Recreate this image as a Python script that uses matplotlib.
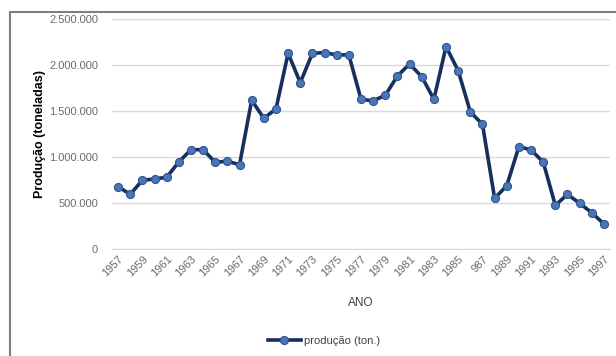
import matplotlib.pyplot as plt
from matplotlib.patches import Rectangle
from matplotlib.ticker import FuncFormatter

# Dados: produção anual (toneladas)
anos = list(range(1957, 1998))
producao = [675000, 591000, 744000, 758000, 777000, 943000, 1077000, 1077000,
            940000, 951000, 914000, 1615000, 1419000, 1520000, 2127000, 1807000,
            2127000, 2134000, 2109000, 2109000, 1626000, 1608000, 1670000, 1880000,
            2010000, 1872000, 1626000, 2199000, 1938000, 1488000, 1354000, 548000,
            685000, 1111000, 1074000, 943000, 471000, 591000, 493000, 391000, 268000]
rotulos_x = ["1957", "1959", "1961", "1963", "1965", "1967", "1969", "1971", "1973",
             "1975", "1977", "1979", "1981", "1983", "1985", "987", "1989", "1991",
             "1993", "1995", "1997"]
ticks_y = [0, 500000, 1000000, 1500000, 2000000, 2500000]

plt.rcParams['font.family'] = ['Liberation Sans', 'DejaVu Sans']

fig = plt.figure(figsize=(6.16, 3.56), dpi=100)
fig.patch.set_facecolor('white')

# moldura do gráfico (sai da imagem à direita e em baixo)
fig.patches.append(Rectangle((10 / 616, -0.05), 1.2, 1 - 12 / 356 + 0.05,
                             transform=fig.transFigure, fill=False,
                             edgecolor='#7f7f7f', lw=1.5))

ax = fig.add_axes([112 / 616, 1 - 248.6 / 356, 498 / 616, (248.6 - 19) / 356])
ax.plot(anos, producao, color='#172f5c', lw=2.6, marker='o', markersize=5.8,
        markerfacecolor='#4a76b8', markeredgecolor='#2e5490', markeredgewidth=0.8,
        label='produção (ton.)', zorder=3)

ax.set_xlim(1956.5, 1997.5)
ax.set_ylim(0, 2500000)
ax.set_yticks(ticks_y)
ax.yaxis.set_major_formatter(FuncFormatter(lambda v, p: f"{int(v):,}".replace(",", ".")))
ax.set_xticks(anos[::2])
ax.set_xticklabels(rotulos_x, rotation=45, ha='right', rotation_mode='anchor')

ax.grid(axis='y', color='#d9d9d9', lw=1)
ax.set_axisbelow(True)
for s in ['top', 'right', 'left']:
    ax.spines[s].set_visible(False)
ax.spines['bottom'].set_color('#d9d9d9')
ax.tick_params(axis='both', length=0, labelsize=8, colors='#6b6b6b')
ax.tick_params(axis='x', pad=4)
ax.tick_params(axis='y', pad=10)

ax.set_xlabel('ANO', fontsize=8.5, color='#404040', labelpad=13)
ax.set_ylabel('Produção (toneladas)', fontsize=9, fontweight='bold', color='black', labelpad=2)

fig.legend(loc='center', bbox_to_anchor=(324 / 616, 1 - 341 / 356), frameon=False,
           fontsize=8, handlelength=3.0, handletextpad=0.3, labelcolor='#404040')

fig.savefig('out.png', dpi=100)
